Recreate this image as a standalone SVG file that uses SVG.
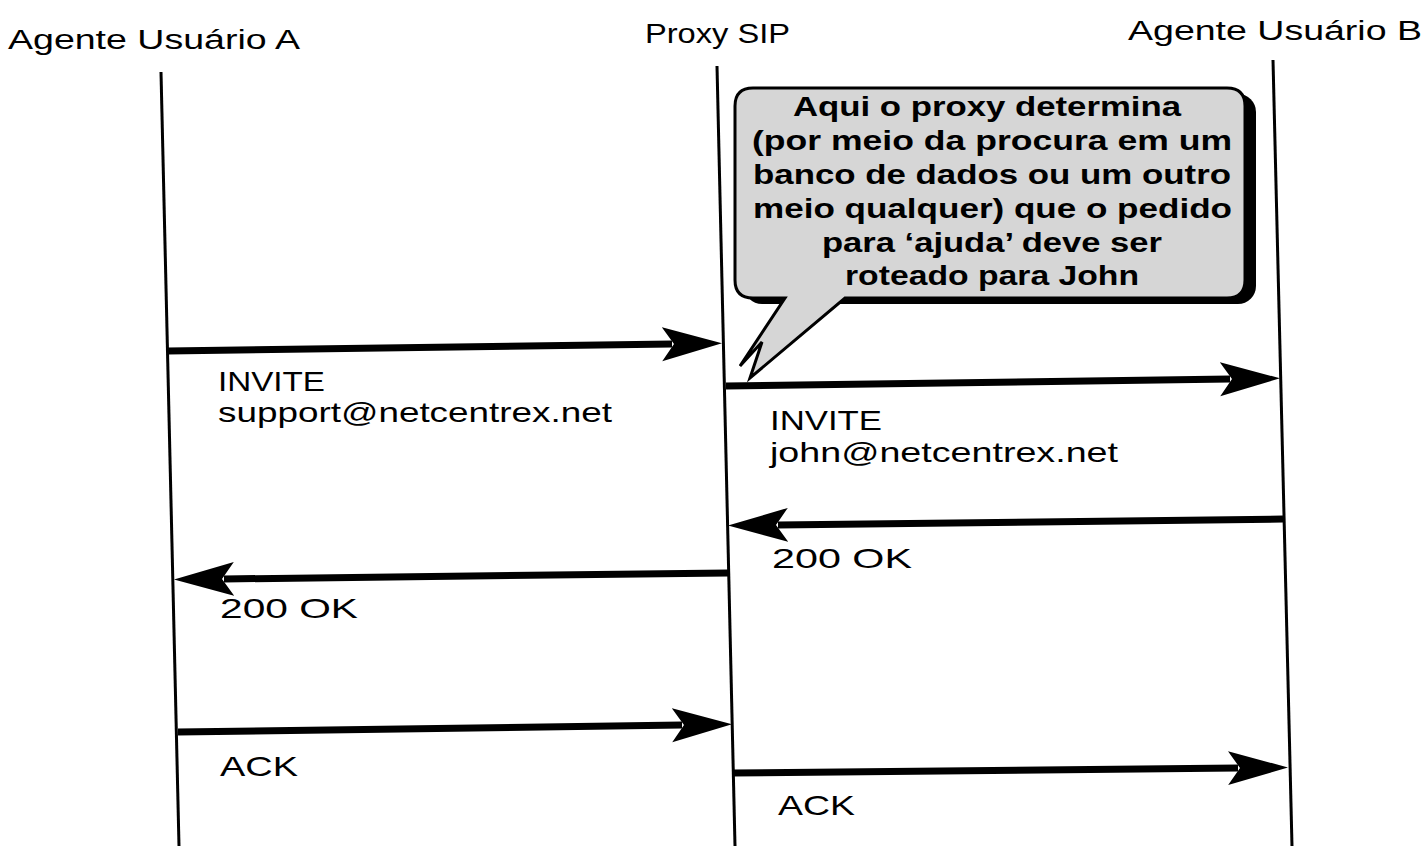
<svg xmlns="http://www.w3.org/2000/svg" width="1426" height="846" viewBox="0 0 1426 846">
<style>
.life{stroke:#000;stroke-width:3;fill:none}
.msg{stroke:#000;stroke-width:7;fill:none;marker-end:url(#ah)}
.hd{font-family:"Liberation Sans",Arial,sans-serif;font-size:27px;fill:#000}
.lb{font-family:"Liberation Sans",Arial,sans-serif;font-size:28px;fill:#000}
.ct{font-family:"Liberation Sans",Arial,sans-serif;font-size:28px;font-weight:bold;fill:#000}
</style>
<defs>
<marker id="ah" markerUnits="userSpaceOnUse" viewBox="-10 -18 60 36" refX="0" refY="0" markerWidth="60" markerHeight="36" orient="auto">
<path d="M-10,-17 L50,0 L-10,17 L2,0 Z" fill="#000"/>
</marker>
</defs>
<rect width="1426" height="846" fill="#fff"/>
<g id="agentA">
<text class="hd" x="8" y="49" textLength="292" lengthAdjust="spacingAndGlyphs">Agente Usuário A</text>
<line class="life" x1="161" y1="72" x2="179" y2="846"/>
</g>
<g id="proxy">
<text class="hd" x="645" y="43" textLength="145" lengthAdjust="spacingAndGlyphs">Proxy SIP</text>
<line class="life" x1="717" y1="66" x2="735" y2="846"/>
</g>
<g id="agentB">
<text class="hd" x="1128" y="40" textLength="294" lengthAdjust="spacingAndGlyphs">Agente Usuário B</text>
<line class="life" x1="1273" y1="60" x2="1292" y2="846"/>
</g>
<g id="callout">
<rect x="744" y="94" width="512" height="210" rx="18" fill="#000"/>
<path d="M753,88 H1227 Q1245,88 1245,106 V280 Q1245,298 1227,298 H845 L750,378 L762,342 L740,366 L785,298 H753 Q735,298 735,280 V106 Q735,88 753,88 Z" fill="#d6d6d6" stroke="#000" stroke-width="3" stroke-linejoin="miter"/>
<text class="ct" x="793" y="116" textLength="388" lengthAdjust="spacingAndGlyphs">Aqui o proxy determina</text>
<text class="ct" x="752" y="150" textLength="480" lengthAdjust="spacingAndGlyphs">(por meio da procura em um</text>
<text class="ct" x="753" y="184" textLength="478" lengthAdjust="spacingAndGlyphs">banco de dados ou um outro</text>
<text class="ct" x="753" y="218" textLength="479" lengthAdjust="spacingAndGlyphs">meio qualquer) que o pedido</text>
<text class="ct" x="822" y="252" textLength="340" lengthAdjust="spacingAndGlyphs">para ‘ajuda’ deve ser</text>
<text class="ct" x="845" y="285" textLength="294" lengthAdjust="spacingAndGlyphs">roteado para John</text>
</g>
<g id="connectors">
<line class="msg" x1="168" y1="351" x2="672" y2="344"/>
<line class="msg" x1="726" y1="386" x2="1230" y2="379"/>
<line class="msg" x1="1283" y1="519" x2="778" y2="525"/>
<line class="msg" x1="728" y1="573" x2="224" y2="579"/>
<line class="msg" x1="178" y1="732" x2="682" y2="725"/>
<line class="msg" x1="733" y1="773" x2="1238" y2="768"/>
</g>
<g id="labels">
<text class="lb" x="218" y="391" textLength="107" lengthAdjust="spacingAndGlyphs">INVITE</text>
<text class="lb" x="218" y="422" textLength="394" lengthAdjust="spacingAndGlyphs">support@netcentrex.net</text>
<text class="lb" x="770" y="430" textLength="112" lengthAdjust="spacingAndGlyphs">INVITE</text>
<text class="lb" x="770" y="462" textLength="348" lengthAdjust="spacingAndGlyphs">john@netcentrex.net</text>
<text class="lb" x="772" y="568" textLength="140" lengthAdjust="spacingAndGlyphs">200 OK</text>
<text class="lb" x="220" y="618" textLength="138" lengthAdjust="spacingAndGlyphs">200 OK</text>
<text class="lb" x="220" y="776" textLength="78" lengthAdjust="spacingAndGlyphs">ACK</text>
<text class="lb" x="778" y="815" textLength="77" lengthAdjust="spacingAndGlyphs">ACK</text>
</g>
</svg>
